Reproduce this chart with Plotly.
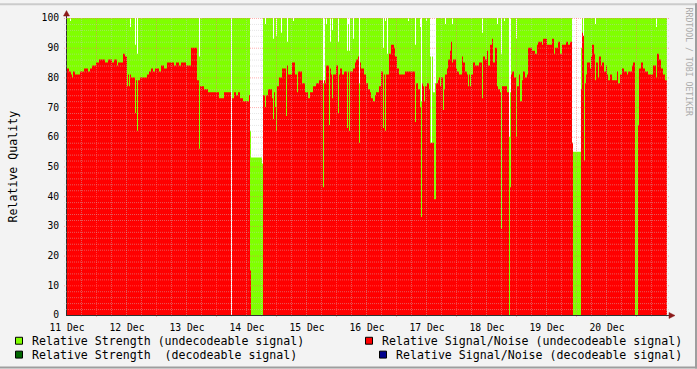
import datetime as dt
import numpy as np
import plotly.graph_objects as go

# ---------------- data ----------------
START = dt.datetime(2008, 12, 11)
STEP_MIN = 24          # one consolidated sample every 24 minutes
N_SAMPLES = 600        # 10 days

# Relative Signal/Noise (undecodeable) : value holds from sample index until next break
SN_BREAK_IDX = [0, 2, 4, 6, 8, 13, 17, 21, 23, 25, 29, 32, 38, 41, 45, 47, 50, 51, 56, 58, 60, 61, 64, 69, 73, 80, 82, 84, 86, 88, 92, 94, 97, 100, 107, 109, 112, 114, 119, 124, 130, 133, 137, 141, 152, 157, 165, 167, 169, 171, 173, 176, 182, 183, 184, 196, 201, 205, 207, 208, 210, 212, 215, 220, 221, 225, 228, 231, 235, 238, 241, 243, 246, 249, 252, 258, 259, 263, 264, 269, 272, 273, 275, 277, 286, 288, 289, 291, 293, 294, 297, 299, 301, 303, 304, 306, 308, 309, 312, 314, 316, 322, 324, 327, 328, 330, 332, 338, 348, 349, 351, 353, 354, 356, 360, 362, 363, 367, 369, 371, 372, 376, 378, 380, 381, 383, 384, 385, 386, 389, 390, 392, 395, 396, 398, 400, 406, 408, 412, 415, 416, 418, 420, 421, 423, 425, 426, 428, 430, 431, 433, 435, 440, 442, 443, 444, 445, 447, 449, 450, 452, 453, 455, 456, 458, 460, 461, 465, 468, 470, 471, 475, 476, 480, 485, 487, 488, 491, 493, 495, 499, 501, 503, 505, 506, 514, 515, 516, 517, 518, 519, 520, 523, 524, 525, 527, 528, 529, 531, 532, 534, 535, 537, 539, 540, 541, 543, 545, 550, 551, 553, 555, 557, 560, 561, 565, 566, 568, 571, 572, 574, 576, 578, 581, 586, 589, 590, 592, 594, 596, 598]
SN_BREAK_VAL = [83, 82, 81, 82, 81, 82, 83, 82, 83, 84, 85, 86, 85, 86, 85, 86, 84, 85, 88, 87, 84, 81, 80, 79, 80, 81, 82, 83, 82, 83, 82, 84, 83, 85, 84, 85, 84, 85, 84, 90, 79, 77, 76, 75, 73, 75, 73, 75, 74, 75, 73, 72, 74, 15, 0, 74, 76, 73, 75, 70, 77, 80, 83, 84, 81, 85, 81, 82, 78, 75, 73, 75, 77, 78, 79, 78, 84, 83, 81, 84, 81, 83, 81, 82, 83, 85, 86, 87, 85, 83, 81, 78, 76, 75, 73, 72, 74, 75, 77, 82, 81, 88, 91, 90, 87, 83, 81, 82, 80, 78, 76, 70, 78, 77, 78, 76, 58, 39, 78, 79, 80, 76, 81, 83, 86, 89, 92, 85, 86, 83, 82, 81, 87, 85, 82, 81, 85, 84, 85, 81, 87, 86, 89, 84, 91, 93, 85, 90, 77, 76, 75, 77, 75, 0, 43, 81, 82, 80, 72, 77, 81, 72, 79, 82, 80, 81, 90, 89, 88, 91, 92, 91, 93, 91, 93, 88, 90, 92, 88, 91, 92, 91, 92, 58, 0, 76, 95, 94, 52, 78, 81, 85, 83, 87, 91, 88, 79, 85, 80, 87, 84, 85, 82, 84, 81, 79, 81, 79, 82, 78, 81, 83, 82, 81, 82, 84, 85, 0, 64, 83, 85, 83, 82, 81, 84, 86, 88, 86, 83, 81, 79]
# single-sample drops of Signal/Noise
SN_SPIKE_IDX = [5, 60, 62, 68, 70, 132, 164, 198, 206, 209, 219, 230, 256, 262, 265, 271, 280, 282, 292, 316, 318, 348, 354, 357, 373, 376, 401, 403, 415, 434, 449, 517, 551, 589]
SN_SPIKE_VAL = [80, 77, 77, 68, 62, 56, 0, 70, 66, 62, 67, 75, 43, 64, 73, 68, 63, 62, 58, 63, 62, 65, 33, 72, 77, 69, 77, 77, 73, 29, 60, 52, 78, 80]

# Relative Strength (undecodeable) : 100 unless listed
STR_DIP_IDX = [3, 63, 68, 70, 132, 164, 183, 195, 198, 206, 209, 214, 220, 226, 256, 257, 259, 263, 265, 271, 280, 281, 282, 286, 292, 316, 318, 320, 341, 348, 353, 354, 359, 363, 364, 365, 366, 367, 368, 378, 385, 415, 430, 434, 437, 442, 443, 449, 505, 514, 516, 528, 589]
STR_DIP_VAL = [99, 97, 91, 88, 87, 0, 62, 51, 98, 93, 94, 95, 92, 99, 78, 78, 98, 92, 96, 92, 89, 98, 89, 93, 78, 90, 99, 88, 99, 91, 97, 72, 99, 87, 58, 87, 75, 75, 78, 98, 98, 95, 98, 88, 99, 60, 75, 93, 58, 90, 88, 98, 97]
STR_RANGE_START = [184, 506]
STR_RANGE_END = [195, 514]
STR_RANGE_VAL = [53, 55]

DAY_LABELS = ["11 Dec", "12 Dec", "13 Dec", "14 Dec", "15 Dec",
              "16 Dec", "17 Dec", "18 Dec", "19 Dec", "20 Dec"]
Y_TICKS = [0, 10, 20, 30, 40, 50, 60, 70, 80, 90, 100]

LEGEND_LABELS = ["Relative Strength (undecodeable signal)",
                 "Relative Signal/Noise (undecodeable signal)",
                 "Relative Strength\u00a0 (decodeable signal)",
                 "Relative Signal/Noise (decodeable signal)"]

# ---------------- build series ----------------
sn = np.zeros(N_SAMPLES)
for k, i0 in enumerate(SN_BREAK_IDX):
    i1 = SN_BREAK_IDX[k + 1] if k + 1 < len(SN_BREAK_IDX) else N_SAMPLES
    sn[i0:i1] = SN_BREAK_VAL[k]
for i, v in zip(SN_SPIKE_IDX, SN_SPIKE_VAL):
    sn[i] = v

strength = np.full(N_SAMPLES, 100.0)
for a, b, v in zip(STR_RANGE_START, STR_RANGE_END, STR_RANGE_VAL):
    strength[a:b] = v
for i, v in zip(STR_DIP_IDX, STR_DIP_VAL):
    strength[i] = v

times = [START + dt.timedelta(minutes=STEP_MIN * i) for i in range(N_SAMPLES + 1)]
sn_ext = list(sn) + [sn[-1]]
st_ext = list(strength) + [strength[-1]]
END = times[-1]

FONT = "DejaVu Sans Mono"
GREEN = "#80FF00"
RED = "#FF0000"
DKGREEN = "#006600"
BLUE = "#00008C"

fig = go.Figure()
fig.add_trace(go.Scatter(x=times, y=st_ext, mode="lines", line=dict(width=0, shape="hv"),
                         fill="tozeroy", fillcolor=GREEN, name=LEGEND_LABELS[0],
                         showlegend=False, hoverinfo="skip"))
fig.add_trace(go.Scatter(x=times, y=sn_ext, mode="lines", line=dict(width=0, shape="hv"),
                         fill="tozeroy", fillcolor=RED, name=LEGEND_LABELS[1],
                         showlegend=False, hoverinfo="skip"))

# ---------------- geometry helpers ----------------
W, H = 697, 369
L, R, T, B = 67, 30, 15, 54
PW, PH = W - L - R, H - T - B


def px(x):
    return (x - L) / PW


def py(y):
    return (T + PH - y) / PH


MINOR_C = "rgba(200,200,200,0.45)"
MAJOR_C = "rgba(255,110,110,0.55)"

shapes = []
# grid (drawn over the data like rrdtool)
for k in range(1, 41):
    t = START + dt.timedelta(hours=6 * k) - dt.timedelta(minutes=12)
    major = (k % 4 == 2)
    shapes.append(dict(type="line", xref="x", yref="paper", x0=t, x1=t, y0=py(317), y1=1,
                       line=dict(color=MAJOR_C if major else MINOR_C,
                                 width=1, dash="1px,1px"), layer="above"))
for v in range(2, 101, 2):
    yy = v - 1 / 6
    major = (v % 10 == 0)
    shapes.append(dict(type="line", xref="paper", yref="y", x0=px(64), x1=px(669), y0=yy, y1=yy,
                       line=dict(color=MAJOR_C if major else MINOR_C,
                                 width=1, dash="1px,1px"), layer="above"))

AXC = "#303030"
ARC = "#8B1A1A"
# axis extensions and arrows
shapes.append(dict(type="line", xref="paper", yref="paper", x0=px(666.5), x1=px(669), y0=py(315.5), y1=py(315.5),
                   line=dict(color=AXC, width=1), layer="above"))
shapes.append(dict(type="line", xref="paper", yref="paper", x0=px(66.5), x1=px(66.5), y0=py(15), y1=py(11),
                   line=dict(color=AXC, width=1), layer="above"))
shapes.append(dict(type="path", xref="paper", yref="paper",
                   path=f"M {px(66.5)} {py(7.5)} L {px(63.5)} {py(13)} L {px(69.5)} {py(13)} Z",
                   fillcolor=ARC, line=dict(color=ARC, width=0.5), layer="above"))
shapes.append(dict(type="path", xref="paper", yref="paper",
                   path=f"M {px(675)} {py(315.5)} L {px(669)} {py(312.5)} L {px(669)} {py(318.5)} Z",
                   fillcolor=ARC, line=dict(color=ARC, width=0.5), layer="above"))

# image border (rrdtool shading)
shapes.append(dict(type="rect", xref="paper", yref="paper", x0=px(0), x1=px(W), y0=py(2), y1=py(0),
                   fillcolor="#CBCBCB", line=dict(width=0)))
shapes.append(dict(type="rect", xref="paper", yref="paper", x0=px(695), x1=px(W), y0=py(H), y1=py(0),
                   fillcolor="#9E9E9E", line=dict(width=0)))
shapes.append(dict(type="rect", xref="paper", yref="paper", x0=px(0), x1=px(W), y0=py(H), y1=py(367),
                   fillcolor="#9E9E9E", line=dict(width=0)))

# legend boxes
legend_pos = [(15, 341, GREEN), (365, 341, RED), (15, 355, DKGREEN), (379, 355, BLUE)]
text_x = [30, 380, 30, 394]
annotations = []
for (bx, by, col), lab, tx in zip(legend_pos, LEGEND_LABELS, text_x):
    shapes.append(dict(type="rect", xref="paper", yref="paper", x0=px(bx + 0.5), x1=px(bx + 7.5),
                       y0=py(by + 3.5), y1=py(by - 3.5), fillcolor=col,
                       line=dict(color="black", width=1)))
    annotations.append(dict(xref="paper", yref="paper", x=px(tx), y=py(by), text=lab,
                            showarrow=False, xanchor="left", yanchor="middle",
                            font=dict(family=FONT, size=11.6, color="black")))

annotations.append(dict(xref="paper", yref="paper", x=px(12), y=py(165), text="Relative Quality",
                        textangle=-90, showarrow=False, xanchor="center", yanchor="middle",
                        font=dict(family=FONT, size=11.6, color="black")))
annotations.append(dict(xref="paper", yref="paper", x=px(689), y=py(59), text="RRDTOOL / TOBI OETIKER",
                        textangle=90, showarrow=False, xanchor="center", yanchor="middle",
                        font=dict(family=FONT, size=8.2, color="#ABABAB")))

day_ticks = [START + dt.timedelta(days=d) for d in range(len(DAY_LABELS))]

fig.update_layout(
    width=W, height=H,
    margin=dict(l=L, r=R, t=T, b=B, pad=0),
    paper_bgcolor="#F3F3F3", plot_bgcolor="#FFFFFF",
    showlegend=False,
    shapes=shapes, annotations=annotations,
    xaxis=dict(type="date", range=[START, END], tickvals=day_ticks, ticktext=DAY_LABELS,
               showgrid=False, zeroline=False, ticks="", showline=True, linecolor=AXC, linewidth=1,
               tickfont=dict(family=FONT, size=9.7, color="black"), ticklabelstandoff=3,
               fixedrange=True),
    yaxis=dict(range=[0, 100], tickvals=Y_TICKS, showgrid=False, zeroline=False, ticks="",
               showline=True, linecolor=AXC, linewidth=1,
               tickfont=dict(family=FONT, size=9.7, color="black"), ticklabelstandoff=5,
               fixedrange=True),
)

fig.write_html("out.html")
